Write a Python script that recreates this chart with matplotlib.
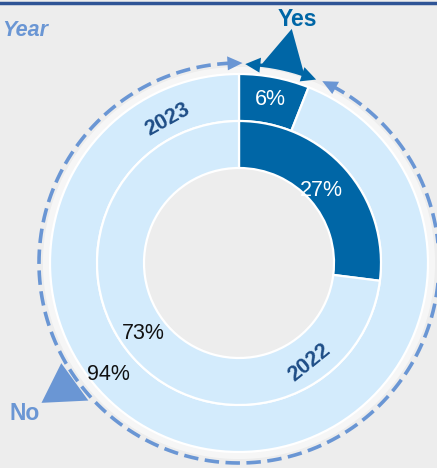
import numpy as np
import matplotlib
matplotlib.use('Agg')
from matplotlib import pyplot as plt
from matplotlib.patches import Polygon, Wedge

plt.rcParams['font.family'] = ['Liberation Sans', 'DejaVu Sans']

# 데이터
years = ['2023', '2022']
yes_pct = [6, 27]
no_pct = [94, 73]

dark_blue = '#0066a6'
light_fill = '#d3ebfc'
dash_blue = '#6a96d4'
navy = '#1f4e87'
bg = '#ededed'

W, H = 437, 468
cx, cy = 239, 205          # 중심 (픽셀, y 위쪽)
r_out, r_mid, r_hole = 189, 142, 95
r_dash = 200

fig = plt.figure(figsize=(W / 100, H / 100), dpi=100, facecolor=bg)
ax = fig.add_axes([0, 0, 1, 1])
ax.set_facecolor(bg)


def pt(theta, r):
    # theta: 12시 방향에서 시계방향 각도
    a = np.radians(90 - theta)
    return cx + r * np.cos(a), cy + r * np.sin(a)


def arc(t0, t1, r, **kw):
    t = np.linspace(t0, t1, 200)
    x, y = pt(t, r)
    ax.plot(x, y, solid_capstyle='butt', dash_capstyle='butt', **kw)


def head(t_tip, direction, r, length, width, color):
    # 원호를 따라가는 화살촉
    dt = np.degrees(length / r) * direction
    tip = pt(t_tip, r)
    bx, by = pt(t_tip - dt, r)
    a = np.radians(90 - (t_tip - dt))
    ux, uy = np.cos(a), np.sin(a)
    p1 = (bx + ux * width / 2, by + uy * width / 2)
    p2 = (bx - ux * width / 2, by - uy * width / 2)
    ax.add_patch(Polygon([tip, p1, p2], closed=True, color=color, lw=0, zorder=6))


# 바깥 링 주변 흰 테두리
ax.add_patch(Wedge((cx, cy), r_out + 7, 0, 360, width=9, color='white', alpha=0.55, lw=0))

# 도넛 (바깥: 2023, 안쪽: 2022)
ax.pie([yes_pct[0], no_pct[0]], radius=r_out, center=(cx, cy), startangle=90,
       counterclock=False, colors=[dark_blue, light_fill],
       wedgeprops=dict(width=r_out - r_mid, edgecolor='white', linewidth=1.6))
ax.pie([yes_pct[1], no_pct[1]], radius=r_mid, center=(cx, cy), startangle=90,
       counterclock=False, colors=[dark_blue, light_fill],
       wedgeprops=dict(width=r_mid - r_hole, edgecolor='white', linewidth=1.6))

# 퍼센트 라벨
for i, r_lab in enumerate([166, 110]):
    mid = yes_pct[i] / 100 * 360 / 2
    x, y = pt(mid, r_lab)
    ax.text(x, y, f'{yes_pct[i]}%', color='white', fontsize=15.5, ha='center', va='center')
ax.text(*pt(229.5, 172), f'{no_pct[0]}%', color='#111111', fontsize=15.5, ha='center', va='center')
ax.text(*pt(233.5, 119), f'{no_pct[1]}%', color='#111111', fontsize=15.5, ha='center', va='center')

# 연도 라벨
ax.text(*pt(-26.4, 160), years[0], color=navy, fontsize=15.5, fontweight='bold',
        rotation=29, ha='center', va='center')
ax.text(*pt(145, 122), years[1], color=navy, fontsize=15.5, fontweight='bold',
        rotation=39, ha='center', va='center')

# No 범위 화살표 (점선)
yes_end = yes_pct[0] / 100 * 360
arc(yes_end + 6, 358, r_dash, color=dash_blue, lw=2.6, linestyle=(0, (4, 1.8)))
head(361, 1, r_dash, 15, 14, dash_blue)
head(yes_end + 3, -1, r_dash, 15, 14, dash_blue)

# Yes 범위 화살표
arc(5, yes_end - 2, r_dash - 1, color=dark_blue, lw=2.4)
arc(5, yes_end - 2, r_dash + 1.5, color='white', lw=0.8, linestyle=(0, (1.5, 4)))
head(1.8, -1, r_dash - 1, 15, 15, dark_blue)
head(yes_end + 1.2, 1, r_dash - 1, 15, 15, dark_blue)

# 말풍선 꼬리
ax.add_patch(Polygon([pt(6.5, 200), pt(19, 200), pt(12.7, 240)], closed=True,
                     color=dark_blue, lw=0, zorder=5))
ax.add_patch(Polygon([pt(240.6, 204), pt(227.6, 204), pt(234.7, 242)], closed=True,
                     color=dash_blue, lw=0, zorder=5))

ax.text(297, H - 20, 'Yes', color=dark_blue, fontsize=16.5, fontweight='bold',
        ha='center', va='center')
ax.text(25, H - 414, 'No', color=dash_blue, fontsize=16.5, fontweight='bold',
        ha='center', va='center')
ax.text(2, H - 30, 'Year', color=dash_blue, fontsize=15.5, fontweight='bold',
        fontstyle='italic', ha='left', va='center')

# 상단 테두리선
ax.plot([0, W], [H - 2.5, H - 2.5], color='#2f5496', lw=2.5)

ax.set_xlim(0, W)
ax.set_ylim(0, H)
ax.set_aspect('equal')
ax.axis('off')

plt.savefig('out.png', dpi=100, facecolor=bg)
